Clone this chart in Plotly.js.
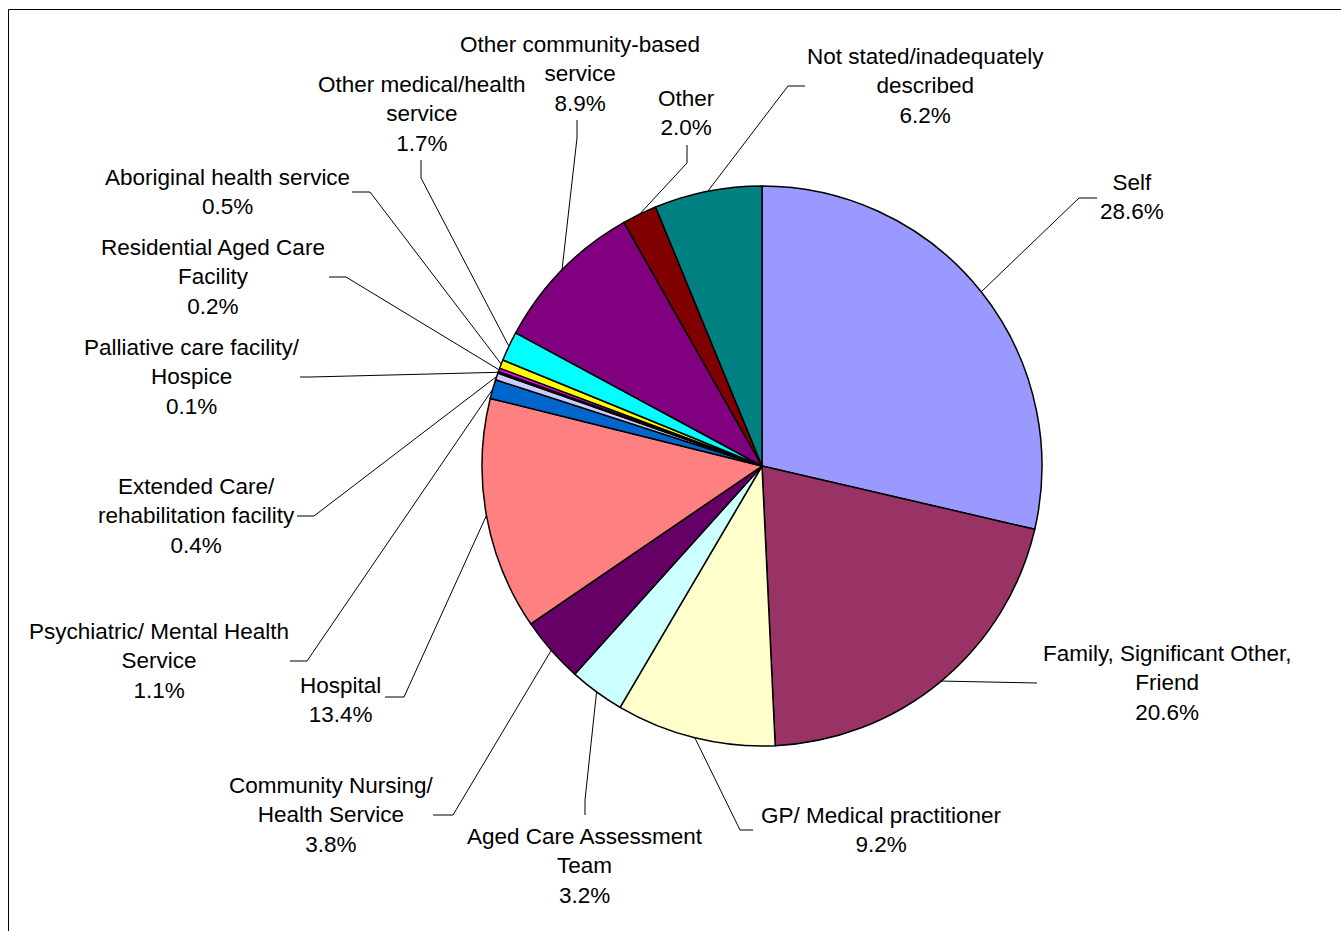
<!DOCTYPE html>
<html>
<head>
<meta charset="utf-8">
<script src="https://cdn.plot.ly/plotly-3.0.1.min.js"></script>
<style>html,body{margin:0;padding:0;background:#fff;}#chart{width:1341px;height:931px;}</style>
</head>
<body>
<div id="chart"></div>
<script>
// ---- data ----
const categories = [
  "Self",
  "Family, Significant Other,<br>Friend",
  "GP/ Medical practitioner",
  "Aged Care Assessment<br>Team",
  "Community Nursing/<br>Health Service",
  "Hospital",
  "Psychiatric/ Mental Health<br>Service",
  "Extended Care/<br>rehabilitation facility",
  "Palliative care facility/<br>Hospice",
  "Residential Aged Care<br>Facility",
  "Aboriginal health service",
  "Other medical/health<br>service",
  "Other community-based<br>service",
  "Other",
  "Not stated/inadequately<br>described"
];
const values = [28.6, 20.6, 9.2, 3.2, 3.8, 13.4, 1.1, 0.4, 0.1, 0.2, 0.5, 1.7, 8.9, 2.0, 6.2];
const colors = ["#9999FF","#993366","#FFFFCC","#CCFFFF","#660066","#FF8080","#0066CC","#CCCCFF",
                "#000080","#FF00FF","#FFFF00","#00FFFF","#800080","#800000","#008080"];

// ---- layout (pixel positions of labels / leader elbows) ----
const W = 1341, H = 931;
const PIE_L = 482, PIE_R = 1042, PIE_T = 186, PIE_B = 746;
const labelPos = [ // [centerX, centerY] of label block
  [1132,197.5],[1167,683],[881,829.5],[585,866],[331,815],[340,699.5],[159,661],
  [196,516],[192,377],[213,277],[227,192.5],[422,114],[580,74],[686,112.5],[925,86]
];
const leaderPts = [ // [elbow, end] for leader line from slice edge
  [[1079,198],[1097,198]],
  [[1037,683],[1037,683]],
  [[740,830],[753,830]],
  [[585,800],[585,815]],
  [[453,815],[433,815]],
  [[404,697],[385,697]],
  [[307,661],[290,661]],
  [[314,516],[297,516]],
  [[310,377],[300,377]],
  [[346,277],[329,277]],
  [[370,192],[352,192]],
  [[421,178],[421,160]],
  [[577,138],[577,120]],
  [[687,163],[687,145]],
  [[788,86],[805,86]]
];

const px = x => x / W;
const py = y => 1 - y / H;

const cx = (PIE_L + PIE_R) / 2, cy = (PIE_T + PIE_B) / 2;
const R = Math.min(PIE_R - PIE_L, PIE_B - PIE_T) / 2;
const total = values.reduce((a, b) => a + b, 0);

const annotations = [];
const shapes = [];
let cum = 0;
values.forEach((v, i) => {
  const th = 2 * Math.PI * (cum + v / 2) / total;
  cum += v;
  const ex = cx + R * Math.sin(th), ey = cy - R * Math.cos(th);
  const [el, en] = leaderPts[i];
  shapes.push({
    type: "path", xref: "paper", yref: "paper",
    path: `M ${px(ex)},${py(ey)} L ${px(el[0])},${py(el[1])} L ${px(en[0])},${py(en[1])}`,
    line: {color: "#000", width: 1}
  });
  annotations.push({
    xref: "paper", yref: "paper",
    x: px(labelPos[i][0]), y: py(labelPos[i][1]),
    xanchor: "center", yanchor: "middle", align: "center",
    showarrow: false,
    text: categories[i] + "<br>" + v.toFixed(1) + "%",
    font: {family: "Liberation Sans, Arial, sans-serif", size: 22.5, color: "#000"}
  });
});

shapes.push({
  type: "rect", xref: "paper", yref: "paper",
  x0: px(8.5), y0: py(9.5), x1: px(W + 10), y1: py(H + 10),
  line: {color: "#000", width: 1}
});

const trace = {
  type: "pie",
  labels: categories,
  values: values,
  sort: false,
  direction: "clockwise",
  rotation: 0,
  textinfo: "none",
  hoverinfo: "none",
  showlegend: false,
  marker: {colors: colors, line: {color: "#000", width: 1.5}},
  domain: {x: [px(PIE_L), px(PIE_R)], y: [py(PIE_B), py(PIE_T)]}
};

const layout = {
  width: W, height: H,
  margin: {l: 0, r: 0, t: 0, b: 0},
  paper_bgcolor: "#fff",
  plot_bgcolor: "#fff",
  showlegend: false,
  annotations: annotations,
  shapes: shapes
};

Plotly.newPlot("chart", [trace], layout, {displayModeBar: false, staticPlot: true});
</script>
</body>
</html>
